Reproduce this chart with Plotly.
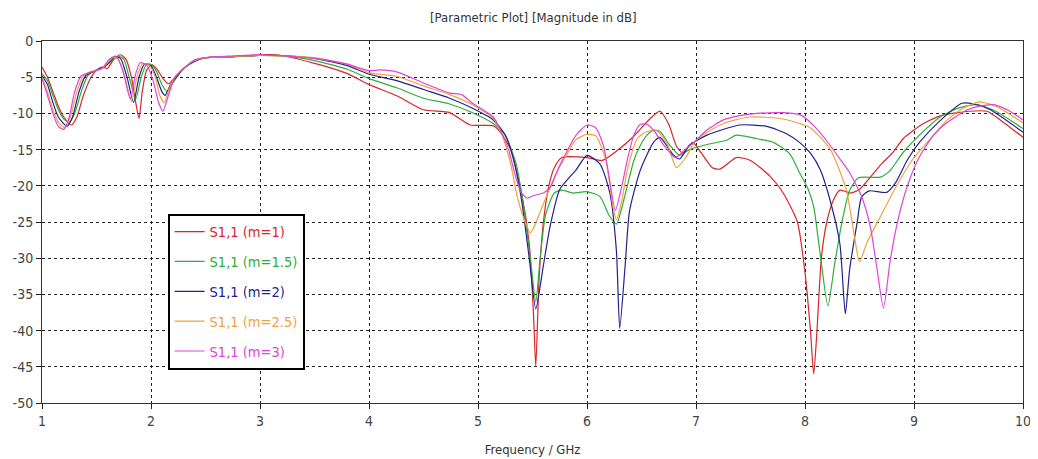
import plotly.graph_objects as go

# ---------------- data ----------------
freq_m1 = [1.0,1.05,1.1,1.15,1.2,1.27,1.32,1.38,1.45,1.5,1.55,1.6,1.66,1.72,1.77,1.82,1.86,1.89,1.92,1.96,
           2.01,2.06,2.11,2.16,2.22,2.3,2.4,2.5,2.7,2.9,3.0,3.2,3.5,3.8,4.0,4.26,4.5,4.74,4.93,5.14,
           5.2,5.3,5.4,5.47,5.51,5.53,5.56,5.6,5.65,5.7,5.77,6.0,6.14,6.28,6.42,6.58,6.67,6.75,6.82,6.88,
           6.97,7.05,7.15,7.22,7.37,7.5,7.68,7.8,7.93,8.0,8.05,8.08,8.11,8.15,8.2,8.26,8.32,8.42,8.5,8.6,
           8.7,8.8,8.9,9.0,9.1,9.25,9.4,9.5,9.67,9.8,10.0]
s11_m1 = [-3.6,-5,-7,-9,-10.5,-11.6,-10.5,-7.5,-5,-4,-3.6,-3.8,-2.5,-1.9,-2.5,-5,-8.5,-10.7,-7,-4,
          -3.3,-4,-5.2,-5.9,-5,-3.8,-2.8,-2.3,-2.2,-2.0,-1.9,-2.0,-3.1,-4.5,-6.0,-7.6,-9.5,-9.9,-11.6,-11.7,
          -12.5,-15,-21,-28,-38,-45,-33,-25,-20,-17.5,-16.1,-16.1,-16.5,-15.1,-13.3,-10.7,-9.7,-11.5,-14.5,-15.5,
          -14,-15.5,-17.5,-17.7,-16.1,-16.5,-18.7,-21,-25,-32,-40,-46,-40,-30,-25,-22,-20.6,-21,-20.5,-18.8,
          -17,-15.5,-13.5,-12.3,-11.3,-10.3,-9.9,-9.7,-9.7,-11,-13.3]

freq_m15 = [1.0,1.05,1.1,1.15,1.2,1.25,1.3,1.36,1.42,1.5,1.55,1.62,1.7,1.75,1.8,1.86,1.91,1.96,2.0,2.05,
            2.1,2.15,2.2,2.3,2.4,2.5,2.7,3.0,3.2,3.5,3.8,4.0,4.26,4.5,4.74,4.95,5.14,5.25,5.35,5.42,
            5.48,5.53,5.57,5.62,5.7,5.77,5.87,6.0,6.12,6.2,6.27,6.32,6.37,6.43,6.49,6.55,6.61,6.67,6.76,6.85,
            6.94,7.1,7.28,7.37,7.56,7.71,7.86,7.95,8.03,8.08,8.14,8.21,8.27,8.34,8.41,8.49,8.69,8.78,8.9,9.05,
            9.24,9.4,9.58,9.75,10.0]
s11_m15 = [-4.5,-5.5,-7.5,-9.5,-10.8,-11.2,-10,-7,-4.8,-4.0,-3.8,-3.0,-2.1,-2.5,-5,-8,-5,-3.2,-3.2,-4.2,
           -6,-7,-5.8,-3.8,-2.8,-2.3,-2.2,-2.0,-2.1,-2.7,-3.9,-5.2,-6.5,-7.9,-8.7,-9.9,-11.4,-13,-17,-23,
           -30,-36,-30,-24,-21,-20.6,-21,-20.8,-21.5,-24,-25.3,-23,-20,-16.5,-14.4,-13,-12.3,-12.5,-14.4,-15.8,
           -15,-14.3,-13.7,-13,-13.5,-14,-15.6,-18.2,-20.5,-22.9,-29.5,-36.6,-31,-24.9,-20.6,-18.9,-18.8,-17.9,-15.4,-13,
           -10.5,-9.3,-8.8,-9.7,-12.1]

freq_m2 = [1.0,1.05,1.1,1.15,1.23,1.28,1.34,1.4,1.5,1.58,1.67,1.72,1.78,1.84,1.89,1.94,2.0,2.05,2.1,2.13,
           2.18,2.3,2.4,2.5,2.7,3.0,3.2,3.5,3.8,4.0,4.26,4.5,4.74,4.95,5.14,5.25,5.32,5.4,5.47,5.53,
           5.6,5.66,5.75,5.9,6.0,6.12,6.21,6.27,6.3,6.35,6.39,6.49,6.61,6.67,6.79,6.85,6.94,7.1,7.4,7.65,
           7.83,7.95,8.05,8.14,8.23,8.32,8.37,8.41,8.48,8.52,8.59,8.75,8.83,8.94,9.05,9.24,9.44,9.55,9.7,10.0]
s11_m2 = [-4.8,-6,-8.5,-10.5,-11.8,-10.5,-7,-4.8,-4,-3.5,-2.2,-2.4,-5,-8.5,-5,-3.2,-3.4,-5,-7,-7.5,
          -6,-3.8,-2.8,-2.3,-2.2,-2.0,-2.0,-2.4,-3.4,-4.6,-5.5,-6.7,-7.9,-9.3,-10.9,-13,-16,-22,-30,-37,
          -31,-25.7,-20.5,-17.8,-15.8,-17,-21,-29,-39.7,-31,-23.5,-17.8,-14,-13.3,-15.7,-16.3,-14.4,-13,-11.6,-11.8,
          -12.8,-14,-15.5,-17.8,-22,-28,-37.7,-31.5,-24.9,-21.5,-20.7,-20.9,-19.6,-16.4,-14,-11,-8.6,-8.7,-9.5,-12.6]

freq_m25 = [1.0,1.05,1.1,1.15,1.21,1.26,1.32,1.38,1.45,1.55,1.65,1.7,1.76,1.82,1.87,1.92,1.98,2.04,2.08,2.12,
            2.17,2.22,2.3,2.4,2.5,2.7,3.0,3.5,3.8,4.0,4.26,4.5,4.74,4.95,5.14,5.22,5.3,5.36,5.42,5.48,
            5.52,5.6,5.72,5.81,5.9,6.0,6.08,6.17,6.24,6.27,6.32,6.37,6.46,6.55,6.64,6.73,6.82,6.91,7.0,7.25,
            7.5,7.77,7.95,8.05,8.23,8.38,8.45,8.5,8.57,8.69,8.84,8.99,9.15,9.3,9.45,9.6,9.75,10.0]
s11_m25 = [-5,-7,-9.5,-11.2,-12,-10.5,-7,-4.8,-4.2,-3.8,-2.3,-2.5,-5,-8.3,-5,-3.2,-3.3,-5,-7.5,-8.5,
           -6.5,-5,-3.8,-2.7,-2.3,-2.2,-2.0,-2.3,-3.2,-4.4,-4.9,-6.2,-7.4,-8.8,-10.7,-13,-17,-21.5,-24.5,-26.5,
           -25.5,-22.5,-18.2,-15.8,-13.6,-12.9,-13.1,-16.3,-23,-24.7,-22,-17.8,-13.5,-12.5,-12.4,-14,-17.5,-16,-13.7,-11.4,
           -10.5,-10.7,-11.4,-12,-14.9,-20.6,-26.7,-30.5,-27.8,-24.3,-20,-16.3,-13.5,-11,-9.3,-8.4,-9.0,-11.3]

freq_m3 = [1.0,1.05,1.1,1.15,1.2,1.25,1.3,1.36,1.45,1.55,1.62,1.68,1.74,1.81,1.86,1.9,1.96,2.02,2.07,2.11,
           2.16,2.22,2.3,2.4,2.5,2.7,3.0,3.5,3.8,4.0,4.1,4.26,4.5,4.74,4.85,4.95,5.14,5.2,5.28,5.35,
           5.4,5.45,5.52,5.6,5.66,5.74,5.81,5.9,6.0,6.08,6.15,6.2,6.26,6.32,6.37,6.43,6.49,6.55,6.62,6.7,
           6.81,6.9,6.98,7.1,7.25,7.4,7.56,7.8,7.96,8.1,8.23,8.33,8.41,8.52,8.6,8.66,8.72,8.78,8.85,8.94,
           9.05,9.18,9.3,9.49,9.6,9.73,9.88,10.0]
s11_m3 = [-5.2,-7.5,-10,-11.8,-12.2,-10.5,-7,-4.8,-4.3,-3.8,-2.5,-2.1,-4,-8,-4.5,-3,-3.3,-5.5,-8.5,-9.7,
          -7.5,-5,-3.8,-2.6,-2.3,-2.1,-1.9,-2.4,-3.2,-4.1,-4.0,-4.3,-5.8,-7.2,-7.4,-8.6,-10.5,-12.1,-15,-19,
          -21,-21.7,-21.3,-21,-20.3,-17.5,-15.4,-13,-11.6,-12,-14.4,-18.5,-23.4,-20,-16.4,-13,-11.5,-11.5,-12.5,-14.3,
          -16.1,-15,-14,-12.3,-10.9,-10.3,-10.0,-9.9,-10.2,-12,-14.4,-16.5,-18.2,-21.5,-25.7,-31.4,-36.9,-30.5,-24.9,-20,
          -16,-13,-11.3,-9.5,-9.0,-8.8,-9.7,-10.9]

series_names = ["S1,1 (m=1)", "S1,1 (m=1.5)", "S1,1 (m=2)", "S1,1 (m=2.5)", "S1,1 (m=3)"]
series_freqs = [freq_m1, freq_m15, freq_m2, freq_m25, freq_m3]
series_vals = [s11_m1, s11_m15, s11_m2, s11_m25, s11_m3]
series_colors = ["#d9262a", "#2fae3a", "#22228f", "#f0a23c", "#dd44dd"]

x_ticks = [1, 2, 3, 4, 5, 6, 7, 8, 9, 10]
x_tick_labels = ["1", "2", "3", "4", "5", "6", "7", "8", "9", "10"]
y_ticks = [0, -5, -10, -15, -20, -25, -30, -35, -40, -45, -50]
y_tick_labels = ["0", "-5", "-10", "-15", "-20", "-25", "-30", "-35", "-40", "-45", "-50"]

FONT = "DejaVu Sans Condensed, Liberation Sans Narrow, Arial Narrow, sans-serif"

fig = go.Figure()
for i, (name, fx, vy, col) in enumerate(zip(series_names, series_freqs, series_vals, series_colors)):
    fig.add_trace(go.Scatter(
        x=fx, y=vy, mode="lines",
        name=f'<span style="color:{col}">{name}</span>',
        legendgroup=f"g{i}",
        line=dict(color=col, width=1.2, shape="spline", smoothing=0.6),
    ))

grid = dict(showgrid=True, gridcolor="#222222", griddash="3px,3px", gridwidth=1)

# the page body has an 8px margin, so the figure is sized/offset to compensate
fig.update_layout(
    width=1030, height=451,
    margin=dict(l=34, r=15, t=33, b=56, autoexpand=False),
    paper_bgcolor="white", plot_bgcolor="white",
    font=dict(family=FONT, color="#333333"),
    title=dict(text="[Parametric Plot] [Magnitude in dB]", x=0.51, xanchor="center",
               y=0.98, yanchor="middle", automargin=False,
               font=dict(size=13, family=FONT, color="#333333")),
    xaxis=dict(range=[1, 10], tickvals=x_ticks, ticktext=x_tick_labels, automargin=False,
               ticks="outside", ticklen=5, tickcolor="#222", showline=True, linecolor="#333",
               linewidth=1, mirror=True, zeroline=False,
               tickfont=dict(size=14, family=FONT, color="#444444"),
               title=dict(text="Frequency / GHz", font=dict(size=13, family=FONT, color="#333333"),
                          standoff=17),
               **grid),
    yaxis=dict(range=[-50, 0], tickvals=y_ticks, ticktext=y_tick_labels, automargin=False,
               ticks="outside", ticklen=5, tickcolor="#222", showline=True, linecolor="#333",
               linewidth=1, mirror=True, zeroline=False,
               tickfont=dict(size=14, family=FONT, color="#444444"),
               **grid),
    legend=dict(x=0.128, y=0.523, xanchor="left", yanchor="top",
                bgcolor="white", bordercolor="black", borderwidth=2,
                font=dict(size=14.5, family=FONT), tracegroupgap=8,
                itemwidth=30, traceorder="grouped"),
    showlegend=True,
)

fig.write_html("out.html")
